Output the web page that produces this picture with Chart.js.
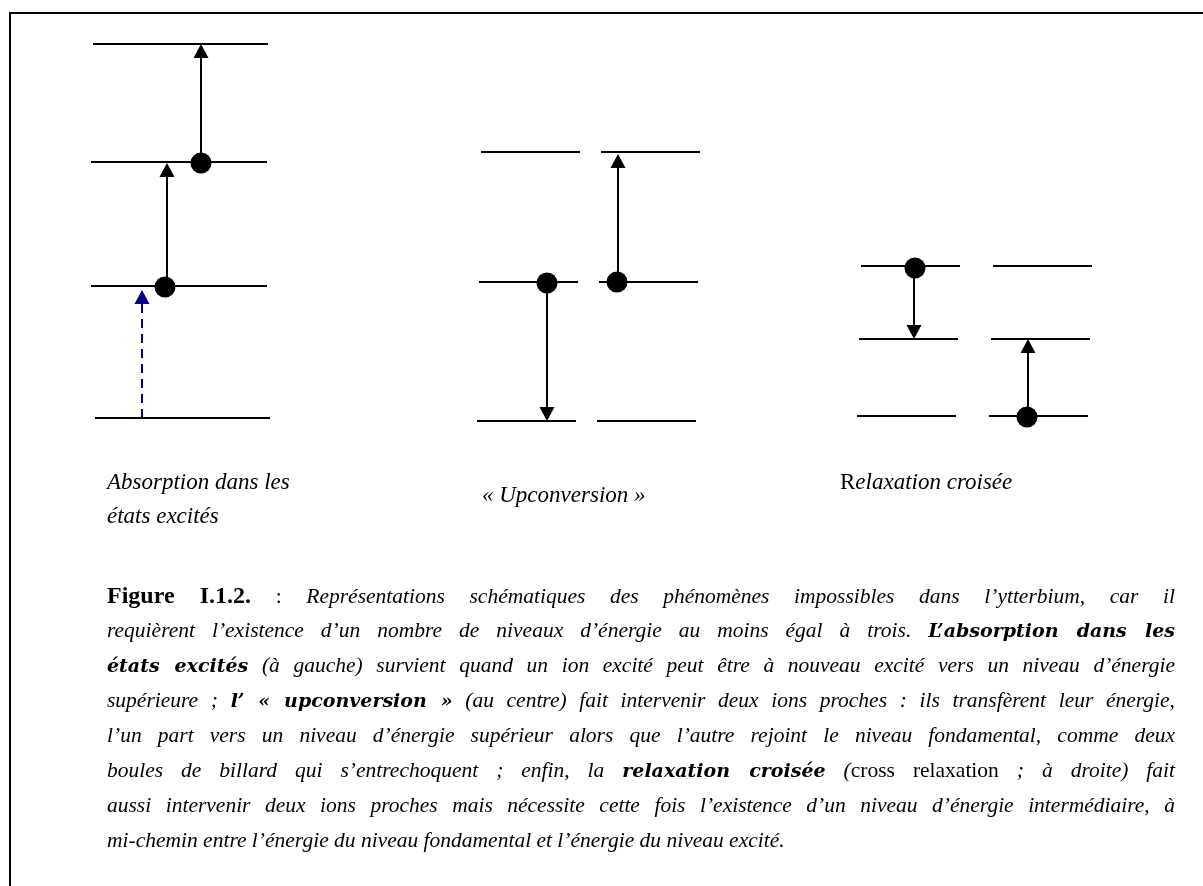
<!DOCTYPE html>
<html lang="fr">
<head>
<meta charset="UTF-8">
<title>Figure I.1.2.</title>
<script src="https://cdn.jsdelivr.net/npm/chart.js"></script>
<style>
  html, body { margin: 0; padding: 0; background: #fff; overflow: hidden; }
  #wrap { position: relative; width: 1203px; height: 886px; }
  #frame { position: absolute; left: 9px; top: 12px; right: 0; bottom: 0; border-left: 2px solid #000; border-top: 2px solid #000; }
  #diagram { position: absolute; left: 0; top: 0; }
  .lbl { position: absolute; font-family: "Liberation Serif", serif; font-style: italic; font-size: 23px; line-height: 34px; color: #000; white-space: nowrap; }
  #caption { position: absolute; left: 107px; top: 578px; width: 1068px; font-family: "Liberation Serif", serif; font-size: 21.5px; line-height: 35px; color: #000; }
  #caption div { text-align: justify; text-align-last: justify; white-space: nowrap; height: 35px; }
  #caption div.last { text-align-last: left; }
  #caption i { font-style: italic; }
  #caption .fig { font-weight: bold; font-size: 24px; }
  #caption .bi { font-family: "DejaVu Serif", serif; font-weight: bold; font-style: italic; font-size: 19px; }
</style>
</head>
<body>
<div id="wrap">
  <div id="frame"></div>
  <canvas id="diagram" width="1203" height="886"></canvas>

  <div class="lbl" style="left:107px; top:465px;">Absorption dans les<br>états excités</div>
  <div class="lbl" style="left:482px; top:478px;">« Upconversion »</div>
  <div class="lbl" style="left:840px; top:465px; font-style:normal;"><span style="font-style:normal">R</span><i>elaxation croisée</i></div>

  <div id="caption">
    <div><span class="fig">Figure I.1.2.</span> : <i>Représentations schématiques des phénomènes impossibles dans l’ytterbium, car il</i></div>
    <div><i>requièrent l’existence d’un nombre de niveaux d’énergie au moins égal à trois.</i> <span class="bi">L’absorption dans les</span></div>
    <div><span class="bi">états excités</span> <i>(à gauche) survient quand un ion excité peut être à nouveau excité vers un niveau d’énergie</i></div>
    <div><i>supérieure ;</i> <span class="bi">l’ « upconversion »</span> <i>(au centre) fait intervenir deux ions proches : ils transfèrent leur énergie,</i></div>
    <div><i>l’un part vers un niveau d’énergie supérieur alors que l’autre rejoint le niveau fondamental, comme deux</i></div>
    <div><i>boules de billard qui s’entrechoquent ; enfin, la</i> <span class="bi">relaxation croisée</span> <i>(</i>cross relaxation <i>; à droite) fait</i></div>
    <div><i>aussi intervenir deux ions proches mais nécessite cette fois l’existence d’un niveau d’énergie intermédiaire, à</i></div>
    <div class="last"><i>mi-chemin entre l’énergie du niveau fondamental et l’énergie du niveau excité.</i></div>
  </div>
</div>

<script>
// energy levels (horizontal bars): start x, end x, level position
const levelStart = [93, 91, 91, 95, 481, 479, 477, 601, 599, 597, 861, 859, 857, 993, 991, 989];
const levelEnd   = [268, 267, 267, 270, 580, 578, 576, 700, 698, 696, 960, 958, 956, 1092, 1090, 1088];
const levelPos   = [44, 162, 286, 418, 152, 282, 421, 152, 282, 421, 266, 339, 416, 266, 339, 416];

// ions sitting on levels
const ionX = [201, 165, 547, 617, 915, 1027];
const ionY = [163, 287, 283, 282, 268, 417];

// transitions (solid arrows): x, from, to
const arrowX    = [201, 167, 547, 618, 914, 1028];
const arrowFrom = [163, 287, 283, 282, 268, 417];
const arrowTo   = [44, 163, 421, 154, 339, 339];

// pump photon (dashed arrow)
const pumpX    = [142];
const pumpFrom = [418];
const pumpTo   = [290];

const HEAD_LEN = 14;
const HEAD_HALF = 7.5;

function segments(x0, x1, y0, y1) {
  const pts = [];
  for (let i = 0; i < x0.length; i++) {
    pts.push({ x: x0[i], y: y0[i] }, { x: x1[i], y: y1[i] }, { x: null, y: null });
  }
  return pts;
}

// shaft stops at the base of the head
function shaftEnds(from, to) {
  return to.map((t, i) => t + Math.sign(from[i] - t) * (HEAD_LEN - 2));
}

const arrowHeads = {
  id: 'arrowHeads',
  afterDatasetsDraw(chart) {
    const { ctx, scales: { x, y } } = chart;
    const draw = (xs, from, to, color) => {
      for (let i = 0; i < xs.length; i++) {
        const px = x.getPixelForValue(xs[i]);
        const tip = y.getPixelForValue(to[i]);
        const dir = Math.sign(y.getPixelForValue(from[i]) - tip);
        ctx.save();
        ctx.fillStyle = color;
        ctx.beginPath();
        ctx.moveTo(px, tip);
        ctx.lineTo(px - HEAD_HALF, tip + dir * HEAD_LEN);
        ctx.lineTo(px + HEAD_HALF, tip + dir * HEAD_LEN);
        ctx.closePath();
        ctx.fill();
        ctx.restore();
      }
    };
    draw(arrowX, arrowFrom, arrowTo, '#000');
    draw(pumpX, pumpFrom, pumpTo, '#000080');
  }
};

new Chart(document.getElementById('diagram'), {
  type: 'scatter',
  data: {
    datasets: [
      {
        label: 'ions',
        data: ionX.map((v, i) => ({ x: v, y: ionY[i] })),
        pointRadius: 10.5,
        pointBackgroundColor: '#000',
        pointBorderWidth: 0,
        showLine: false,
        order: 0
      },
      {
        label: 'transitions',
        data: segments(arrowX, arrowX, arrowFrom, shaftEnds(arrowFrom, arrowTo)),
        showLine: true,
        borderColor: '#000',
        borderWidth: 2,
        pointRadius: 0,
        order: 1
      },
      {
        label: 'pump',
        data: segments(pumpX, pumpX, pumpFrom, shaftEnds(pumpFrom, pumpTo)),
        showLine: true,
        borderColor: '#000080',
        borderWidth: 2,
        borderDash: [9, 6],
        pointRadius: 0,
        order: 1
      },
      {
        label: 'levels',
        data: segments(levelStart, levelEnd, levelPos, levelPos),
        showLine: true,
        borderColor: '#000',
        borderWidth: 2,
        borderCapStyle: 'butt',
        pointRadius: 0,
        order: 2
      }
    ]
  },
  options: {
    responsive: false,
    animation: false,
    layout: { padding: 0, autoPadding: false },
    plugins: { legend: { display: false }, tooltip: { enabled: false } },
    scales: {
      x: { type: 'linear', min: 0, max: 1203, display: false },
      y: { type: 'linear', min: 0, max: 886, reverse: true, display: false }
    }
  },
  plugins: [arrowHeads]
});
</script>
</body>
</html>
